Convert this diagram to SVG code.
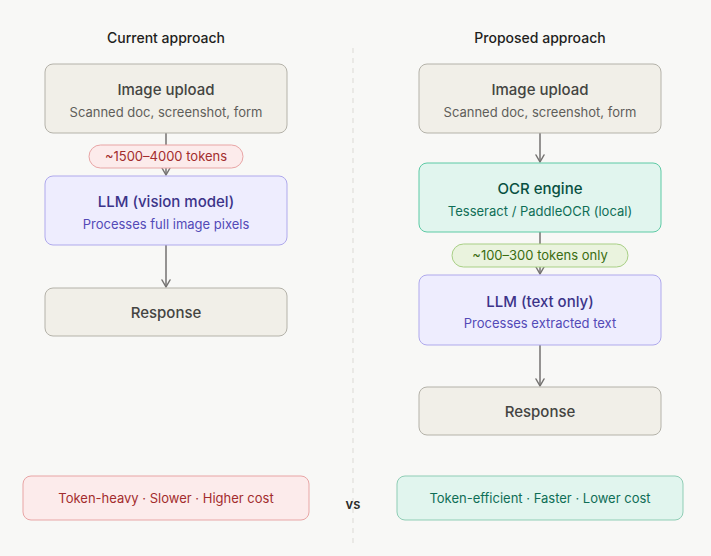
<svg xmlns="http://www.w3.org/2000/svg" width="711" height="556" viewBox="0 0 711 556">
<defs>
<marker id="arr" viewBox="0 0 10 10" refX="8" refY="5" markerWidth="10" markerHeight="10" markerUnits="userSpaceOnUse" orient="auto">
<path d="M1,1 L8,5 L1,9" fill="none" stroke="#747270" stroke-width="1.5" stroke-linecap="round" stroke-linejoin="round"/>
</marker>
<style>
text{font-family:Inter,"Noto Sans","Liberation Sans",sans-serif;text-anchor:middle}
.hdr{font-size:14px;font-weight:500;fill:#1f1f1d}
.t{font-size:15px;font-weight:500}
.s{font-size:13px}
.neu rect{fill:#f1efe8;stroke:#b4b2a9;stroke-width:1}
.neu .t{fill:#444441}.neu .s{fill:#5f5e5a}
.llm rect{fill:#eeedfe;stroke:#afa9ec;stroke-width:1}
.llm .t{fill:#3c3489}.llm .s{fill:#534ab7}
.ocr rect{fill:#e1f5ee;stroke:#5dcaa5;stroke-width:1}
.ocr .t{fill:#085041}.ocr .s{fill:#0f6e56}
.red rect{fill:#fcebeb;stroke:#e8a5a5;stroke-width:1}
.red text{fill:#a32d2d;font-size:13px}
.grn rect{fill:#eaf3de;stroke:#a8cf85;stroke-width:1}
.grn text{fill:#3b6d11;font-size:13px}
.gsum rect{fill:#e1f5ee;stroke:#8fcdb5;stroke-width:1}
.gsum text{fill:#0f6e56;font-size:13px}
.conn line{stroke:#747270;stroke-width:1.5;marker-end:url(#arr)}
</style>
</defs>
<rect width="711" height="556" fill="#f8f8f6"/>
<line x1="353" y1="48" x2="353" y2="545" stroke="#dcdad5" stroke-width="1" stroke-dasharray="5 5"/>
<text class="hdr" x="166" y="43">Current approach</text>
<text class="hdr" x="540" y="43">Proposed approach</text>

<g id="connectors" class="conn">
<line x1="166" y1="133" x2="166" y2="175"/>
<line x1="166" y1="245" x2="166" y2="287"/>
<line x1="540" y1="133" x2="540" y2="162"/>
<line x1="540" y1="232" x2="540" y2="274"/>
<line x1="540" y1="345" x2="540" y2="386"/>
</g>

<g id="l-upload" class="neu">
<rect x="45" y="64" width="242" height="69" rx="8"/>
<text class="t" x="166" y="95">Image upload</text>
<text class="s" x="166" y="117">Scanned doc, screenshot, form</text>
</g>
<g id="l-tokens" class="red">
<rect x="89" y="145" width="154" height="23" rx="11.5"/>
<text x="166" y="161">~1500–4000 tokens</text>
</g>
<g id="l-llm" class="llm">
<rect x="45" y="176" width="242" height="69" rx="8"/>
<text class="t" x="166" y="207">LLM (vision model)</text>
<text class="s" x="166" y="229">Processes full image pixels</text>
</g>
<g id="l-response" class="neu">
<rect x="45" y="288" width="242" height="48" rx="8"/>
<text class="t" x="166" y="318">Response</text>
</g>

<g id="r-upload" class="neu">
<rect x="419" y="64" width="242" height="69" rx="8"/>
<text class="t" x="540" y="95">Image upload</text>
<text class="s" x="540" y="117">Scanned doc, screenshot, form</text>
</g>
<g id="r-ocr" class="ocr">
<rect x="419" y="163" width="242" height="69" rx="8"/>
<text class="t" x="540" y="194">OCR engine</text>
<text class="s" x="540" y="216">Tesseract / PaddleOCR (local)</text>
</g>
<g id="r-tokens" class="grn">
<rect x="452" y="244" width="176" height="23" rx="11.5"/>
<text x="540" y="260">~100–300 tokens only</text>
</g>
<g id="r-llm" class="llm">
<rect x="419" y="275" width="242" height="70" rx="8"/>
<text class="t" x="540" y="307">LLM (text only)</text>
<text class="s" x="540" y="328">Processes extracted text</text>
</g>
<g id="r-response" class="neu">
<rect x="419" y="387" width="242" height="48" rx="8"/>
<text class="t" x="540" y="417">Response</text>
</g>

<g id="l-summary" class="red">
<rect x="23" y="476" width="286" height="44" rx="8"/>
<text x="166" y="503">Token-heavy · Slower · Higher cost</text>
</g>
<g id="vs">
<text x="353" y="509" style="font-size:13px;font-weight:600;fill:#2c2c2a">vs</text>
</g>
<g id="r-summary" class="gsum">
<rect x="397" y="476" width="286" height="44" rx="8"/>
<text x="540" y="503">Token-efficient · Faster · Lower cost</text>
</g>
</svg>
